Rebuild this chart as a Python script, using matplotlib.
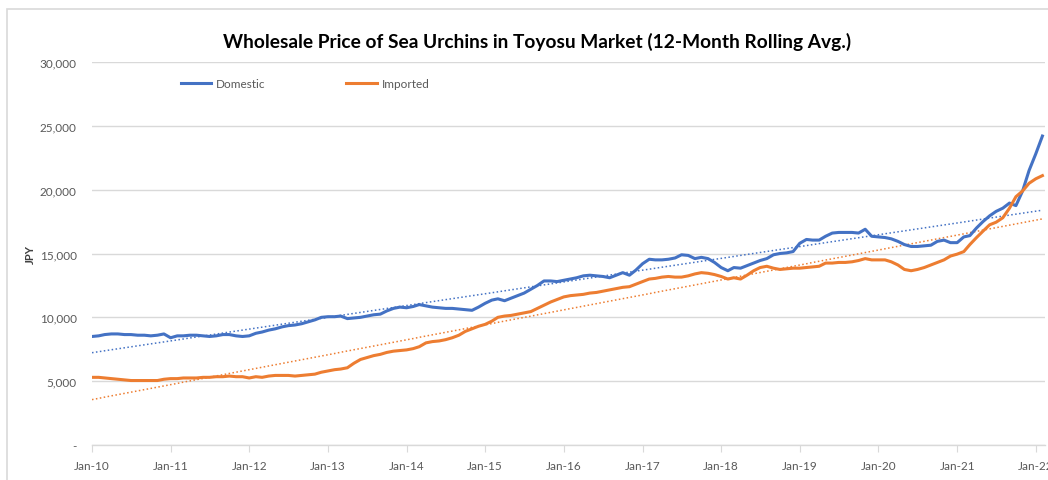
import matplotlib
matplotlib.use("Agg")
import matplotlib.pyplot as plt
import matplotlib.dates as mdates
import matplotlib.ticker as mticker
import numpy as np
import pandas as pd

_BLUE = "#4472C4"
_ORANGE = "#ED7D31"
_GRID = "#d9d9d9"
_TICK_TEXT = "#595959"

plt.rcParams["font.family"] = ["Lato", "DejaVu Sans"]

months = pd.date_range("2010-01-01", "2022-02-01", freq="MS")

domestic = [
    8500, 8550, 8650, 8700, 8700, 8650, 8650, 8600, 8600, 8550, 8600, 8700,
    8400, 8550, 8550, 8600, 8600, 8550, 8500, 8550, 8650, 8650, 8550, 8500,
    8550, 8750, 8850, 9000, 9100, 9250, 9350, 9400, 9500, 9650, 9800, 10000,
    10050, 10050, 10100, 9900, 9950, 10000, 10100, 10200, 10250, 10500, 10700, 10800,
    10750, 10850, 11000, 10900, 10800, 10750, 10700, 10700, 10650, 10600, 10550, 10800,
    11100, 11350, 11450, 11300, 11500, 11700, 11900, 12200, 12500, 12850, 12850, 12800,
    12900, 13000, 13100, 13250, 13300, 13250, 13200, 13100, 13300, 13500, 13300, 13700,
    14200, 14550, 14500, 14500, 14550, 14650, 14900, 14850, 14600, 14700, 14600, 14300,
    13900, 13650, 13900, 13850, 14050, 14250, 14450, 14600, 14900, 15000, 15050, 15150,
    15800, 16100, 16050, 16050, 16350, 16600, 16650, 16650, 16650, 16600, 16900, 16350,
    16300, 16250, 16150, 15950, 15700, 15550, 15550, 15600, 15650, 15950, 16050, 15850,
    15850, 16300, 16400, 17000, 17500, 17950, 18300, 18550, 18950, 18750, 19900, 21500,
    22800, 24200,
]

imported = [
    5300, 5300, 5250, 5200, 5150, 5100, 5050, 5050, 5050, 5050, 5050, 5150,
    5200, 5200, 5250, 5250, 5250, 5300, 5300, 5350, 5350, 5400, 5350, 5350,
    5250, 5350, 5300, 5400, 5450, 5450, 5450, 5400, 5450, 5500, 5550, 5700,
    5800, 5900, 5950, 6050, 6400, 6700, 6850, 7000, 7100, 7250, 7350, 7400,
    7450, 7550, 7700, 8000, 8100, 8150, 8250, 8400, 8600, 8900, 9100, 9300,
    9450, 9700, 10000, 10100, 10150, 10250, 10350, 10450, 10700, 10950, 11200, 11400,
    11600, 11700, 11750, 11800, 11900, 11950, 12050, 12150, 12250, 12350, 12400, 12600,
    12800, 13000, 13050, 13150, 13200, 13150, 13150, 13250, 13400, 13500, 13450, 13350,
    13200, 13000, 13100, 13000, 13300, 13650, 13900, 14000, 13850, 13750, 13800, 13850,
    13850, 13900, 13950, 14000, 14250, 14250, 14300, 14300, 14350, 14450, 14600, 14500,
    14500, 14500, 14350, 14100, 13750, 13650, 13750, 13900, 14100, 14300, 14500, 14800,
    14950, 15150, 15700, 16250, 16750, 17250, 17450, 17800, 18550, 19450, 19900, 20500,
    20850, 21100,
]

y_ticks = [0, 5000, 10000, 15000, 20000, 25000, 30000]


def _fmt_y(v, _pos):
    return "-" if v == 0 else f"{v:,.0f}"


fig = plt.figure(figsize=(10.48, 4.81), dpi=100)
fig.patch.set_facecolor("white")
# outer chart frame (clipped on the right like the screenshot)
fig.add_artist(plt.Rectangle((7 / 1048, -0.1), 1.2, 1 - 10 / 481 + 0.1,
                             transform=fig.transFigure, fill=False,
                             edgecolor="#d9d9d9", linewidth=1.2))

ax = fig.add_axes([92 / 1048, 1 - 446 / 481, (1045 - 92) / 1048, (446 - 63) / 481])

ax.plot(months, domestic, color=_BLUE, linewidth=2.2, label="Domestic", zorder=3)
ax.plot(months, imported, color=_ORANGE, linewidth=2.2, label="Imported", zorder=3)

# linear trendlines, like Excel's
t = np.arange(len(months))
for series, color in ((domestic, _BLUE), (imported, _ORANGE)):
    slope, icpt = np.polyfit(t, series, 1)
    ax.plot(months, slope * t + icpt, color=color, linewidth=1.1,
            linestyle=(0, (1, 1.6)), zorder=2)

ax.set_ylim(0, 30000)
ax.set_xlim(months[0], months[-1] + pd.Timedelta(days=12))
ax.set_yticks(y_ticks)
ax.yaxis.set_major_formatter(mticker.FuncFormatter(_fmt_y))
ax.xaxis.set_major_locator(mdates.YearLocator(month=1, day=1))
ax.xaxis.set_major_formatter(mdates.DateFormatter("%b-%y"))

ax.grid(axis="y", color=_GRID, linewidth=1.0, zorder=0)
ax.set_axisbelow(True)
for side in ("top", "right", "left"):
    ax.spines[side].set_visible(False)
ax.spines["bottom"].set_color(_GRID)
ax.spines["bottom"].set_linewidth(1.0)
ax.tick_params(axis="y", length=0, pad=11, labelsize=8.5, labelcolor=_TICK_TEXT)
ax.tick_params(axis="x", length=5, color=_GRID, pad=6, labelsize=8.5,
               labelcolor=_TICK_TEXT)

ax.set_ylabel("JPY", fontsize=8, fontweight="bold", color="#404040", labelpad=3)

fig.text(0.512, 1 - 42 / 481, "Wholesale Price of Sea Urchins in Toyosu Market (12-Month Rolling Avg.)",
         ha="center", va="center", fontsize=13.8, fontweight="bold", color="#000000")

ax.legend(loc="center left", bbox_to_anchor=(0.082, 0.943), ncol=2, frameon=False,
          fontsize=8.5, labelcolor=_TICK_TEXT, handlelength=2.6, handletextpad=0.4,
          columnspacing=6.8)

fig.savefig("out.png", dpi=100, facecolor="white")
